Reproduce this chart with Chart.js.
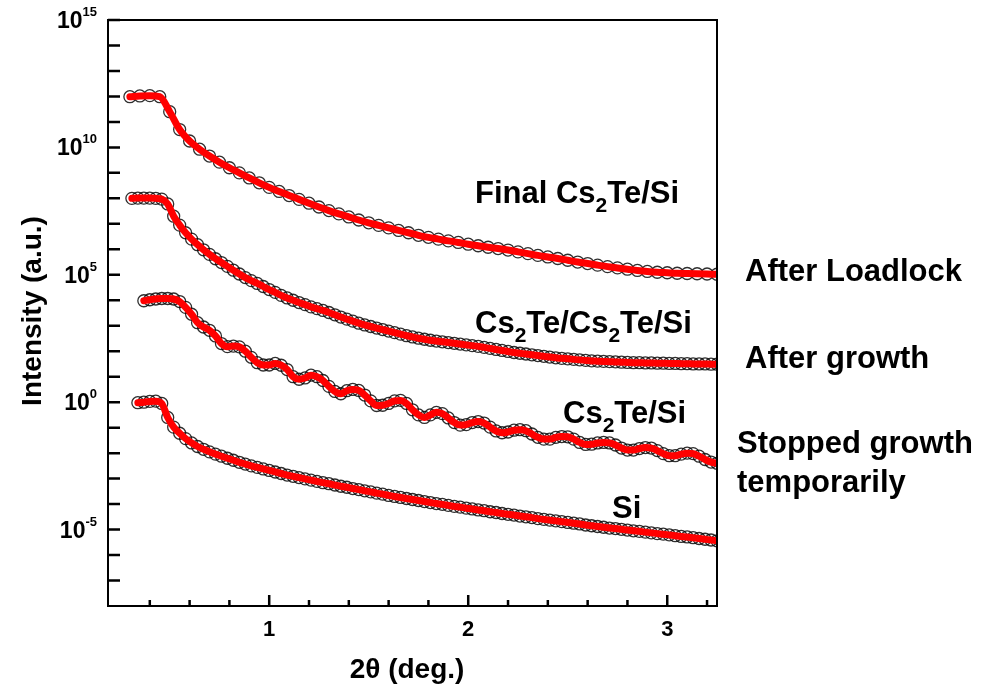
<!DOCTYPE html>
<html>
<head>
<meta charset="utf-8">
<title>XRR curves</title>
<script src="https://cdn.jsdelivr.net/npm/chart.js@4.4.1/dist/chart.umd.min.js"></script>
<style>
  html, body { margin: 0; padding: 0; background: #fff; }
</style>
</head>
<body>
<canvas id="xrr" width="981" height="686"></canvas>
<script>
const FONT = '"Liberation Sans", Arial, Helvetica, sans-serif';

// 2theta (deg.) of the densely sampled scans
const twoTheta = [
  0.31, 0.34, 0.37, 0.40, 0.43, 0.46, 0.49, 0.52, 0.55, 0.58,
  0.61, 0.64, 0.67, 0.70, 0.73, 0.76, 0.79, 0.82, 0.85, 0.88,
  0.91, 0.94, 0.97, 1.00, 1.03, 1.06, 1.09, 1.12, 1.15, 1.18,
  1.21, 1.24, 1.27, 1.30, 1.33, 1.36, 1.39, 1.42, 1.45, 1.48,
  1.51, 1.54, 1.57, 1.60, 1.63, 1.66, 1.69, 1.72, 1.75, 1.78,
  1.81, 1.84, 1.87, 1.90, 1.93, 1.96, 1.99, 2.02, 2.05, 2.08,
  2.11, 2.14, 2.17, 2.20, 2.23, 2.26, 2.29, 2.32, 2.35, 2.38,
  2.41, 2.44, 2.47, 2.50, 2.53, 2.56, 2.59, 2.62, 2.65, 2.68,
  2.71, 2.74, 2.77, 2.80, 2.83, 2.86, 2.89, 2.92, 2.95, 2.98,
  3.01, 3.04, 3.07, 3.10, 3.13, 3.16, 3.19, 3.22, 3.25
];
// the final scan is sampled more coarsely
const twoThetaFinal = [
  0.30, 0.35, 0.40, 0.45, 0.50, 0.55, 0.60, 0.65, 0.70, 0.75,
  0.80, 0.85, 0.90, 0.95, 1.00, 1.05, 1.10, 1.15, 1.20, 1.25,
  1.30, 1.35, 1.40, 1.45, 1.50, 1.55, 1.60, 1.65, 1.70, 1.75,
  1.80, 1.85, 1.90, 1.95, 2.00, 2.05, 2.10, 2.15, 2.20, 2.25,
  2.30, 2.35, 2.40, 2.45, 2.50, 2.55, 2.60, 2.65, 2.70, 2.75,
  2.80, 2.85, 2.90, 2.95, 3.00, 3.05, 3.10, 3.15, 3.20, 3.25
];

// log10(intensity) (curves are offset vertically)
const logFinal = [
  11.99, 12.02, 12.03, 11.99, 11.4, 10.7, 10.25, 9.93, 9.66, 9.42,
  9.2, 9.0, 8.8, 8.61, 8.43, 8.27, 8.11, 7.96, 7.81, 7.66,
  7.52, 7.39, 7.27, 7.15, 7.04, 6.94, 6.84, 6.74, 6.65, 6.55,
  6.47, 6.4, 6.33, 6.27, 6.2, 6.14, 6.08, 6.03, 5.97, 5.9,
  5.83, 5.76, 5.7, 5.64, 5.57, 5.5, 5.44, 5.38, 5.32, 5.27,
  5.22, 5.17, 5.13, 5.1, 5.08, 5.06, 5.05, 5.04, 5.03, 5.02
];
const logAfterGrowth = [
  8.0, 8.01, 8.01, 8.01, 8.0, 7.97, 7.78, 7.3, 6.95, 6.65,
  6.4, 6.18, 5.98, 5.8, 5.63, 5.48, 5.33, 5.18, 5.03, 4.89,
  4.77, 4.66, 4.54, 4.42, 4.31, 4.19, 4.09, 4.0, 3.91, 3.83,
  3.74, 3.67, 3.6, 3.52, 3.43, 3.34, 3.26, 3.18, 3.1, 3.03,
  2.97, 2.91, 2.85, 2.79, 2.73, 2.67, 2.61, 2.56, 2.51, 2.47,
  2.43, 2.4, 2.37, 2.34, 2.31, 2.28, 2.25, 2.22, 2.19, 2.15,
  2.11, 2.07, 2.03, 1.99, 1.95, 1.92, 1.89, 1.86, 1.83, 1.8,
  1.77, 1.74, 1.72, 1.7, 1.68, 1.66, 1.64, 1.62, 1.61, 1.6,
  1.59, 1.58, 1.57, 1.56, 1.55, 1.55, 1.54, 1.54, 1.53, 1.53,
  1.52, 1.52, 1.51, 1.51, 1.5, 1.5, 1.5, 1.49, 1.49
];
const logStopped = [
  null, null, 3.98, 4.02, 4.05, 4.07, 4.07, 4.05, 3.95, 3.72,
  3.45, 3.12, 2.95, 2.82, 2.6, 2.3, 2.18, 2.2, 2.17, 2.0,
  1.76, 1.55, 1.46, 1.46, 1.52, 1.45, 1.28, 1.0, 0.9, 0.95,
  1.06, 1.0, 0.85, 0.62, 0.42, 0.33, 0.45, 0.5, 0.46, 0.28,
  0.05, -0.13, -0.12, -0.05, 0.05, 0.07, -0.05, -0.3, -0.5, -0.6,
  -0.5, -0.4, -0.45, -0.62, -0.8, -0.9, -0.88, -0.8, -0.76, -0.82,
  -0.98, -1.13, -1.2, -1.17, -1.1, -1.08, -1.12, -1.25, -1.38, -1.45,
  -1.45, -1.38, -1.35, -1.36, -1.45, -1.58, -1.66, -1.65, -1.6, -1.58,
  -1.6, -1.68, -1.8, -1.88, -1.88, -1.82, -1.78, -1.8, -1.9, -2.02,
  -2.1, -2.1, -2.04, -2.0, -2.02, -2.12, -2.25, -2.35, -2.4
];
const logSi = [
  null, -0.02, 0.0, 0.03, 0.04, -0.05, -0.6, -0.98, -1.22, -1.43,
  -1.6, -1.74, -1.85, -1.95, -2.04, -2.12, -2.2, -2.28, -2.36, -2.43,
  -2.5, -2.56, -2.62, -2.68, -2.74, -2.8, -2.86, -2.91, -2.96, -3.01,
  -3.06, -3.11, -3.16, -3.2, -3.25, -3.3, -3.34, -3.39, -3.43, -3.48,
  -3.52, -3.57, -3.61, -3.66, -3.7, -3.74, -3.78, -3.82, -3.86, -3.9,
  -3.94, -3.98, -4.01, -4.05, -4.09, -4.12, -4.16, -4.19, -4.23, -4.26,
  -4.3, -4.33, -4.37, -4.4, -4.43, -4.47, -4.5, -4.53, -4.57, -4.6,
  -4.63, -4.66, -4.69, -4.72, -4.75, -4.78, -4.82, -4.85, -4.88, -4.91,
  -4.94, -4.96, -4.99, -5.02, -5.05, -5.07, -5.1, -5.13, -5.16, -5.18,
  -5.21, -5.24, -5.27, -5.29, -5.32, -5.35, -5.38, -5.41, -5.44
];

const xMajorTicks = [1, 2, 3];
const xMinorTicks = [0.4, 0.6, 0.8, 1.2, 1.4, 1.6, 1.8, 2.2, 2.4, 2.6, 2.8, 3.2];
const yTickDecades = [-7, -6, -5, -4, -3, -2, -1, 0, 1, 2, 3, 4, 5, 6, 7, 8, 9, 10, 11, 12, 13, 14, 15];
const yLabelDecades = [-5, 0, 5, 10, 15];

const curveNames = ['Final Cs₂Te/Si', 'Cs₂Te/Cs₂Te/Si', 'Cs₂Te/Si', 'Si'];
const stepNames = ['After Loadlock', 'After growth', 'Stopped growth', 'temporarily'];
const xTitle = '2θ (deg.)';
const yTitle = 'Intensity (a.u.)';

function toPoints(xs, logs) {
    return xs.map((x, i) => logs[i] == null ? null : { x: x, y: Math.pow(10, logs[i]) })
             .filter(p => p);
}

const series = [
    [twoThetaFinal, logFinal],
    [twoTheta, logAfterGrowth],
    [twoTheta, logStopped],
    [twoTheta, logSi]
];

let datasets = [];
series.forEach(([xs, logs]) => {
    const pts = toPoints(xs, logs);
    // red fit on top
    datasets.push({
        data: pts, showLine: true, fill: false,
        borderColor: '#ff0000', borderWidth: 7,
        borderCapStyle: 'round', borderJoinStyle: 'round',
        cubicInterpolationMode: 'monotone',
        pointRadius: 0, order: 0, clip: 0
    });
    // measured points: open circles
    datasets.push({
        data: pts, showLine: false,
        pointStyle: 'circle', pointRadius: 6,
        pointBorderWidth: 1.3,
        pointBorderColor: 'rgba(10,10,10,0.85)',
        pointBackgroundColor: 'rgba(255,255,255,0)',
        order: 1, clip: 0
    });
});

// draw text where '₂' becomes a lowered, smaller 2
function richText(ctx, str, x, y, size) {
    let cx = x;
    str.split(/(₂)/).forEach(part => {
        if (!part) return;
        if (part === '₂') {
            ctx.font = 'bold ' + Math.round(size * 0.68) + 'px ' + FONT;
            ctx.fillText('2', cx, y + size * 0.28);
            cx += ctx.measureText('2').width;
        } else {
            ctx.font = 'bold ' + size + 'px ' + FONT;
            ctx.fillText(part, cx, y);
            cx += ctx.measureText(part).width;
        }
    });
}

const frameAndText = {
    id: 'frameAndText',
    afterDraw(chart) {
        const ctx = chart.ctx;
        const a = chart.chartArea;
        const xs = chart.scales.x, ys = chart.scales.y;
        ctx.save();
        ctx.strokeStyle = '#000';
        ctx.fillStyle = '#000';

        // box
        ctx.lineWidth = 2;
        ctx.strokeRect(a.left, a.top, a.right - a.left, a.bottom - a.top);

        // inward ticks
        ctx.lineWidth = 2.5;
        ctx.beginPath();
        yTickDecades.forEach(e => {
            const py = ys.getPixelForValue(Math.pow(10, e));
            ctx.moveTo(a.left, py); ctx.lineTo(a.left + 12, py);
        });
        xMajorTicks.forEach(v => {
            const px = xs.getPixelForValue(v);
            ctx.moveTo(px, a.bottom); ctx.lineTo(px, a.bottom - 11);
        });
        xMinorTicks.forEach(v => {
            const px = xs.getPixelForValue(v);
            ctx.moveTo(px, a.bottom); ctx.lineTo(px, a.bottom - 6);
        });
        ctx.stroke();

        // y labels 10^n
        ctx.textAlign = 'left';
        ctx.textBaseline = 'alphabetic';
        yLabelDecades.forEach(e => {
            const py = ys.getPixelForValue(Math.pow(10, e));
            const sup = String(e);
            ctx.font = 'bold 13px ' + FONT;
            const ws = ctx.measureText(sup).width;
            ctx.font = 'bold 23px ' + FONT;
            const wb = ctx.measureText('10').width;
            const right = a.left - 11;
            ctx.fillText('10', right - ws - wb, py + 8);
            ctx.font = 'bold 13px ' + FONT;
            ctx.fillText(sup, right - ws, py - 4);
        });

        // x labels
        ctx.textAlign = 'center';
        ctx.font = 'bold 22px ' + FONT;
        xMajorTicks.forEach(v => {
            ctx.fillText(String(v), xs.getPixelForValue(v), a.bottom + 30);
        });

        // axis titles
        ctx.font = 'bold 28px ' + FONT;
        ctx.fillText(xTitle, 407, 678);
        ctx.save();
        ctx.translate(33, 311);
        ctx.rotate(-Math.PI / 2);
        ctx.textBaseline = 'middle';
        ctx.fillText(yTitle, 0, 0);
        ctx.restore();

        // curve names inside the plot
        ctx.textAlign = 'left';
        ctx.textBaseline = 'alphabetic';
        const inside = [[475, 203], [475, 333], [563, 423], [612, 518]];
        curveNames.forEach((t, i) => richText(ctx, t, inside[i][0], inside[i][1], 31));

        // growth steps to the right of the plot
        const outside = [[745, 281], [745, 368], [737, 453], [737, 492]];
        stepNames.forEach((t, i) => richText(ctx, t, outside[i][0], outside[i][1], 31));

        ctx.restore();
    }
};

new Chart(document.getElementById('xrr'), {
    type: 'scatter',
    data: { datasets: datasets },
    options: {
        responsive: false,
        animation: false,
        events: [],
        layout: { padding: { left: 108, right: 264, top: 20, bottom: 80 } },
        scales: {
            x: { type: 'linear', min: 0.19, max: 3.25, display: false },
            y: { type: 'logarithmic', min: 1e-8, max: 1e15, display: false }
        },
        plugins: { legend: { display: false }, tooltip: { enabled: false } }
    },
    plugins: [frameAndText]
});
</script>
</body>
</html>
